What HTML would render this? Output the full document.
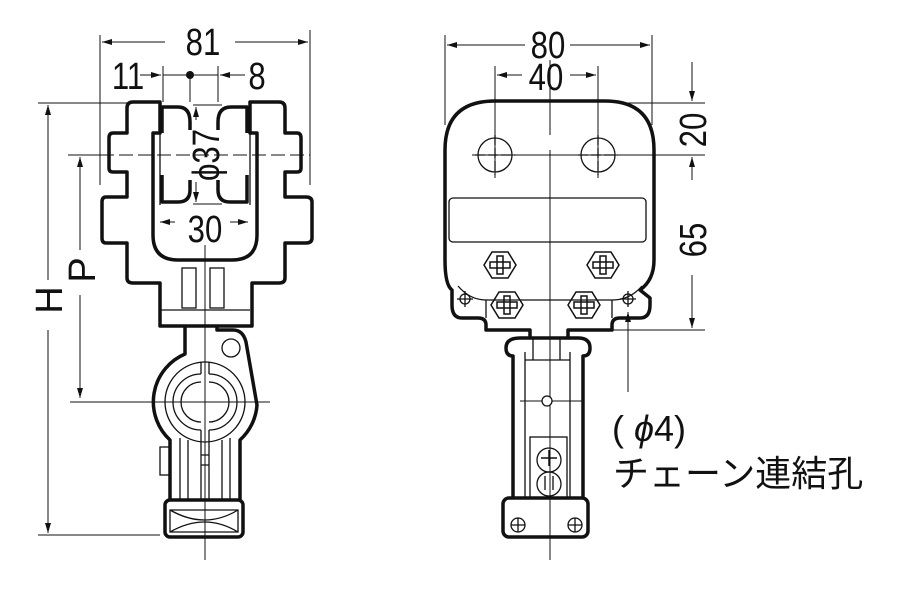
<!DOCTYPE html>
<html><head><meta charset="utf-8"><style>
html,body{margin:0;padding:0;background:#fff;width:907px;height:601px;overflow:hidden}
svg{display:block}
text{font-family:"Liberation Sans","Noto Sans CJK JP",sans-serif;fill:#111}
</style></head><body>
<svg width="907" height="601" viewBox="0 0 907 601" xmlns="http://www.w3.org/2000/svg">
<defs>
<marker id="a" viewBox="0 0 10 6" refX="10" refY="3" markerWidth="10" markerHeight="6" orient="auto" markerUnits="userSpaceOnUse"><path d="M0,0 L10,3 L0,6 z" fill="#111"/></marker>
</defs>
<g stroke="#111" fill="none" stroke-width="1">
<line x1="100" y1="35" x2="100" y2="185"/>
<line x1="310" y1="30" x2="310" y2="185"/>
<line x1="165" y1="42" x2="102" y2="42" marker-end="url(#a)"/>
<line x1="235" y1="42" x2="308" y2="42" marker-end="url(#a)"/>
<line x1="163" y1="66" x2="163" y2="102"/>
<line x1="218" y1="66" x2="218" y2="102"/>
<line x1="190" y1="75" x2="190" y2="102"/>
<line x1="163" y1="75" x2="218" y2="75"/>
<line x1="140" y1="75" x2="161" y2="75" marker-end="url(#a)"/>
<line x1="245" y1="75" x2="220" y2="75" marker-end="url(#a)"/>
<line x1="38" y1="103" x2="128" y2="103"/>
<line x1="48" y1="280" x2="48" y2="105" marker-end="url(#a)"/>
<line x1="48" y1="330" x2="48" y2="533" marker-end="url(#a)"/>
<line x1="38" y1="535" x2="160" y2="535"/>
<line x1="68" y1="155" x2="110" y2="155"/>
<line x1="80" y1="250" x2="80" y2="157" marker-end="url(#a)"/>
<line x1="80" y1="295" x2="80" y2="398" marker-end="url(#a)"/>
<line x1="70" y1="402" x2="270" y2="402"/>
<line x1="205" y1="245" x2="205" y2="560"/>
<line x1="100" y1="155" x2="310" y2="155" stroke-dasharray="14,5"/>
<line x1="196" y1="120" x2="196" y2="107" marker-end="url(#a)"/>
<line x1="196" y1="182" x2="196" y2="202" marker-end="url(#a)"/>
<line x1="193" y1="105" x2="222" y2="105"/>
<line x1="193" y1="204" x2="222" y2="204"/>
<line x1="175" y1="222" x2="160" y2="222" marker-end="url(#a)"/>
<line x1="230" y1="222" x2="248" y2="222" marker-end="url(#a)"/>
</g>
<g fill="#111">
<circle cx="190" cy="75" r="4"/>
<text x="203" y="55" font-size="38" text-anchor="middle" transform="translate(203 0) scale(.82 1) translate(-203 0)">81</text>
<text x="128" y="89" font-size="38" text-anchor="middle" transform="translate(128 0) scale(.82 1) translate(-128 0)">11</text>
<text x="257" y="89" font-size="38" text-anchor="middle" transform="translate(257 0) scale(.82 1) translate(-257 0)">8</text>
<text x="205" y="242" font-size="38" text-anchor="middle" transform="translate(205 0) scale(.82 1) translate(-205 0)">30</text>
<text font-size="38" text-anchor="middle" transform="translate(219 155) rotate(-90) scale(.82 1)">ϕ37</text>
<text font-size="38" text-anchor="middle" transform="translate(62 300) rotate(-90)">H</text>
<text font-size="38" text-anchor="middle" transform="translate(95 270) rotate(-90)">P</text>
</g>
<!-- left body -->
<g stroke="#111" fill="none" stroke-width="3.5" stroke-linejoin="round">
<path d="M153,205 V133 H160 V102 H133 Q127,102 127,108 V133 H113 Q109,133 109,138 V168 Q109,172 113,172 H127 V197 H106 Q102,197 102,202 V238 Q102,243 106,243 H127 V278 Q127,283 133,283 H160 V326 H252 V283 H279 Q285,283 285,278 V243 H306 Q312,243 312,238 V202 Q312,197 306,197 H285 V172 H297 Q301,172 301,168 V138 Q301,133 297,133 H285 V108 Q285,102 279,102 H250 V133 H257 V235 Q257,260 232,260 H178 Q153,260 153,235 Z"/>
<path d="M162,133 V107 H178 Q190,107 190,122 V130"/>
<path d="M247,133 V107 H231 Q218,107 218,122 V130"/>
<path d="M162,175 V202 H178 Q190,202 190,190 V180"/>
<path d="M247,175 V202 H230 Q218,202 218,190 V180"/>
<path d="M185,326 V354 A52,52 0 0,0 170,440 V500 M240,500 V440 A52,52 0 0,0 257,405 L246,342 Q243,330 233,330 H217 V326"/>
<rect x="165" y="500" width="78" height="37" rx="5"/>
</g>
<g stroke="#111" fill="none" stroke-width="1.3">
<line x1="160" y1="133" x2="160" y2="205"/><line x1="250" y1="133" x2="250" y2="205"/>
<rect x="182" y="268" width="14" height="40"/><rect x="210" y="268" width="14" height="40"/>
<circle cx="231" cy="348" r="9"/>
<line x1="160" y1="310" x2="250" y2="310"/>
<circle cx="205" cy="402" r="40"/>
<path d="M201,374 A28,28 0 1,0 201,430 M209,374 A28,28 0 1,1 209,430"/>
<path d="M201,382 A20,20 0 1,0 201,422 M209,382 A20,20 0 1,1 209,422"/>
<path d="M201,362 V374 M209,362 V374 M201,430 V500 M209,430 V500 M201,455 H209 M201,465 H209"/>
<line x1="180" y1="438" x2="180" y2="500"/><line x1="230" y1="438" x2="230" y2="500"/>
<line x1="188" y1="440" x2="188" y2="500"/><line x1="222" y1="440" x2="222" y2="500"/>
<rect x="160" y="447" width="10" height="28"/>
<path d="M170,510 H238 V532 H170 Z M170,510 Q205,530 238,510 M170,532 Q205,512 238,532"/>
</g>
<!-- right view dims -->
<g stroke="#111" fill="none" stroke-width="1">
<line x1="445" y1="35" x2="445" y2="125"/><line x1="652" y1="35" x2="652" y2="125"/>
<line x1="525" y1="45" x2="447" y2="45" marker-end="url(#a)"/>
<line x1="570" y1="45" x2="650" y2="45" marker-end="url(#a)"/>
<line x1="495" y1="66" x2="495" y2="178"/><line x1="598" y1="66" x2="598" y2="178"/>
<line x1="522" y1="75" x2="497" y2="75" marker-end="url(#a)"/>
<line x1="570" y1="75" x2="596" y2="75" marker-end="url(#a)"/>
<line x1="550" y1="60" x2="550" y2="560"/>
<line x1="550" y1="135" x2="550" y2="150" stroke="#fff" stroke-width="3"/>
<line x1="626" y1="103" x2="705" y2="103"/>
<line x1="472" y1="155" x2="705" y2="155"/>
<line x1="612" y1="330" x2="705" y2="330"/>
<line x1="692" y1="62" x2="692" y2="101" marker-end="url(#a)"/>
<line x1="692" y1="180" x2="692" y2="157" marker-end="url(#a)"/>
<line x1="692" y1="275" x2="692" y2="328" marker-end="url(#a)"/>
<line x1="628" y1="392" x2="628" y2="312" marker-end="url(#a)"/>
<line x1="520" y1="401" x2="582" y2="401"/>
<line x1="478" y1="155" x2="512" y2="155" stroke-dasharray="12,4" stroke="#fff" stroke-width="0"/>
</g>
<g fill="#111">
<text x="548" y="58" font-size="38" text-anchor="middle" transform="translate(548 0) scale(.82 1) translate(-548 0)">80</text>
<text x="546" y="90" font-size="38" text-anchor="middle" transform="translate(546 0) scale(.82 1) translate(-546 0)">40</text>
<text font-size="38" text-anchor="middle" transform="translate(706 130) rotate(-90) scale(.82 1)">20</text>
<text font-size="38" text-anchor="middle" transform="translate(706 240) rotate(-90) scale(.82 1)">65</text>
<text x="612" y="441" font-size="36">( <tspan font-style="italic">ϕ</tspan>4)</text>
<text x="613" y="486" font-size="36">チェーン連結孔</text>
</g>
<g stroke="#111" fill="none" stroke-width="3.5" stroke-linejoin="round">
<path d="M495,101 H605 Q654,101 654,150 V260 Q654,280 640,290 L650,298 V305 Q650,318 640,318 H620 Q612,318 612,325 V330 H568 V338 H530 V330 H486 V325 Q486,318 478,318 H462 Q452,318 452,305 V290 Q445,285 445,260 V150 Q445,101 495,101 Z"/>
<path d="M530,338 H520 Q506,338 506,348 Q506,356 513,356 V498 M568,338 H578 Q590,338 590,348 Q590,356 583,356 V498"/>
<rect x="503" y="498" width="85" height="39" rx="6"/>
</g>
<g stroke="#111" fill="none" stroke-width="1.3">
<circle cx="495" cy="155" r="17"/><circle cx="598" cy="155" r="17"/>
<path d="M475,155 h40 M495,135 v40 M578,155 h40 M598,135 v40" stroke-dasharray="10,3"/>
<rect x="449" y="198" width="197" height="44" rx="4"/>
<path d="M458,286 Q470,300 486,300 H612 Q630,300 642,286"/>
<line x1="486" y1="300" x2="486" y2="318"/><line x1="612" y1="300" x2="612" y2="318"/>
<circle cx="465" cy="299" r="5"/><circle cx="628" cy="299" r="5"/>
<path d="M457,299 h16 M465,291 v16 M620,299 h16 M628,291 v16"/>
<line x1="525" y1="352" x2="525" y2="498"/><line x1="570" y1="352" x2="570" y2="498"/>
<line x1="533" y1="338" x2="533" y2="360"/><line x1="560" y1="338" x2="560" y2="360"/>
<line x1="525" y1="360" x2="570" y2="360"/>
<rect x="530" y="437" width="37" height="61"/>
<circle cx="547" cy="401" r="5" fill="#fff"/>
<circle cx="549" cy="460" r="12"/><circle cx="549" cy="484" r="12"/>
<path d="M545,476 v14 M553,476 v14"/>
<circle cx="518" cy="525" r="7"/><circle cx="575" cy="525" r="7"/>
<path d="M511,525 h14 M518,518 v14 M568,525 h14 M575,518 v14"/>
</g>
<g stroke="#111" fill="none" stroke-width="1.5">
<path d="M484,265 l8,-13 h16 l8,13 l-8,13 h-16 z M490,262 h20 v6 h-20z M497,256 h6 v18 h-6z"/>
<path d="M587,265 l8,-13 h16 l8,13 l-8,13 h-16 z M593,262 h20 v6 h-20z M600,256 h6 v18 h-6z"/>
<path d="M491,305 l8,-13 h16 l8,13 l-8,13 h-16 z M497,302 h20 v6 h-20z M504,296 h6 v18 h-6z"/>
<path d="M568,305 l8,-13 h16 l8,13 l-8,13 h-16 z M574,302 h20 v6 h-20z M581,296 h6 v18 h-6z"/>
<path d="M541,458 h16 M549,450 v16"/>
</g>
</svg>
</body></html>
